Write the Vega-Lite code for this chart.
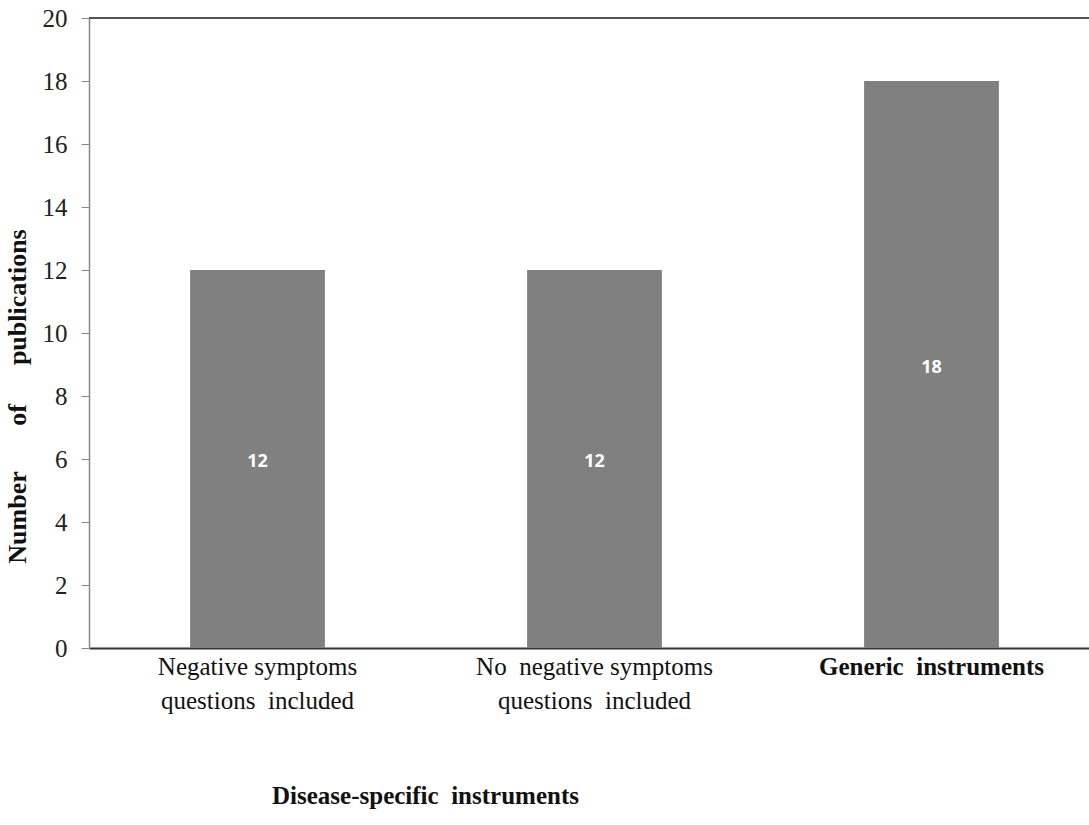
{
  "$schema": "https://vega.github.io/schema/vega-lite/v6.json",
  "autosize": "none",
  "padding": {"left": 89, "top": 18, "right": 0, "bottom": 177},
  "width": 1011,
  "height": 630,
  "config": {"view": {"stroke": null}, "font": "Liberation Serif"},
  "data": {
    "values": [
      {"category": "Negative\u00a0symptoms|questions\u00a0\u00a0included", "count": 12},
      {"category": "No\u00a0\u00a0negative\u00a0symptoms|questions\u00a0\u00a0included", "count": 12},
      {"category": "Generic\u00a0\u00a0instruments", "count": 18}
    ]
  },
  "layer": [
    {
      "mark": {"type": "bar", "color": "#808080"},
      "encoding": {
        "x": {
          "field": "category",
          "type": "nominal",
          "sort": null,
          "scale": {"paddingInner": 0.6, "paddingOuter": 0.3},
          "axis": {
            "labelAngle": 0,
            "labelExpr": "split(datum.label, '|')",
            "labelFont": "Liberation Serif",
            "labelFontSize": 25,
            "labelLimit": 0,
            "labelColor": "#111",
            "labelLineHeight": 34,
            "labelPadding": 6,
            "labelBaseline": "top",
            "labelFontWeight": {"condition": {"test": "indexof(datum.value, 'Generic') >= 0", "value": "bold"}, "value": "normal"},
            "ticks": false,
            "domainColor": "#333",
            "domainWidth": 2,
            "title": "Disease-specific\u00a0\u00a0instruments",
            "titleFont": "Liberation Serif",
            "titleFontSize": 25,
            "titleFontWeight": "bold",
            "titleColor": "#111",
            "titleX": 336,
            "titleY": 147,
            "titleAlign": "center",
            "titleBaseline": "middle"
          }
        },
        "y": {
          "field": "count",
          "type": "quantitative",
          "scale": {"domain": [0, 20], "nice": false},
          "axis": {
            "values": [0, 2, 4, 6, 8, 10, 12, 14, 16, 18, 20],
            "grid": false,
            "labelFont": "Liberation Serif",
            "labelFontSize": 25,
            "labelColor": "#222",
            "labelPadding": 14,
            "tickSize": 8,
            "tickColor": "#888",
            "domainColor": "#888",
            "domainWidth": 1.5,
            "title": "Number\u00a0\u00a0\u00a0\u00a0\u00a0\u00a0\u00a0of\u00a0\u00a0\u00a0\u00a0\u00a0\u00a0publications",
            "titleFont": "Liberation Serif",
            "titleFontSize": 26,
            "titleFontWeight": "bold",
            "titleColor": "#111",
            "titleAnchor": "middle",
            "titleY": 378,
            "titleX": -72,
            "titleAlign": "center",
            "titleBaseline": "middle",
            "titleAngle": 270
          }
        }
      }
    },
    {
      "transform": [{"calculate": "datum.count / 2", "as": "mid"}],
      "mark": {"type": "text", "color": "white", "font": "Open Sans", "fontWeight": "bold", "fontSize": 18, "baseline": "middle", "dy": 3},
      "encoding": {
        "x": {"field": "category", "type": "nominal", "sort": null},
        "y": {"field": "mid", "type": "quantitative"},
        "text": {"field": "count", "type": "quantitative"}
      }
    },
    {
      "data": {"values": [{"top": 20}]},
      "mark": {"type": "rule", "color": "#555", "strokeWidth": 2},
      "encoding": {"y": {"field": "top", "type": "quantitative"}}
    }
  ]
}
